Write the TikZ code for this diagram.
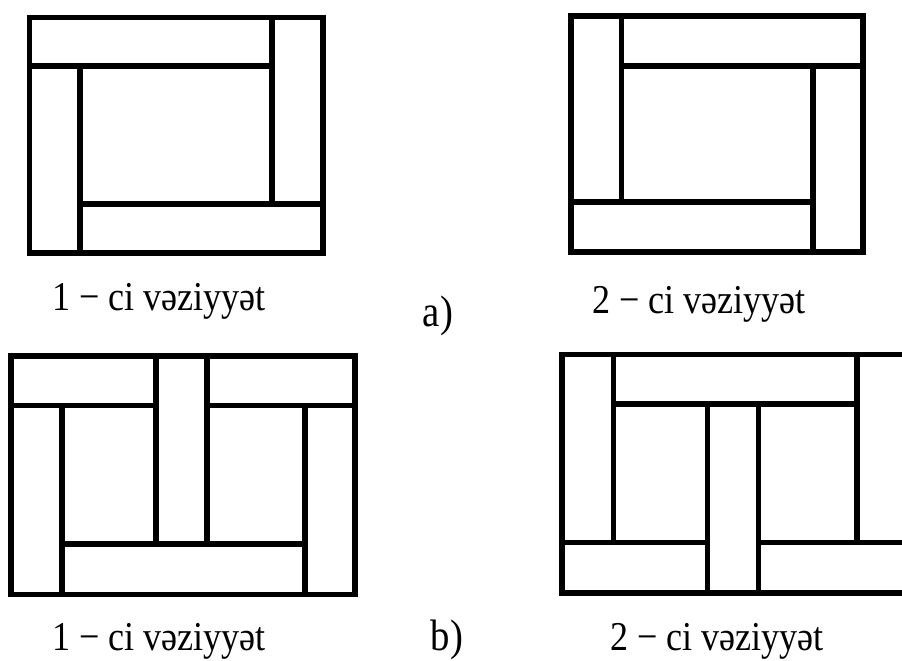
\documentclass[tikz,border=0pt]{standalone}
\usepackage{fontspec}
\setmainfont{Liberation Serif}
\newfontfamily\tallserif[FakeStretch=0.88]{Liberation Serif}
\usepackage{tikz}
\usetikzlibrary{positioning}

\tikzset{
  piece/.style={draw=black, line width=5.6pt},
  caption/.style={anchor=base west, inner sep=0pt, font=\tallserif\fontsize{41}{48}\selectfont},
  tag/.style={anchor=base, inner sep=0pt, font=\tallserif\fontsize{44}{52}\selectfont}
}

\begin{document}
\begin{tikzpicture}[x=1pt,y=-1pt]

  % Frame of the page
  \useasboundingbox (0,0) rectangle (902,661);
  \clip (0,0) rectangle (902,661);

  % a) position 1
  \draw[piece] (29.5,17.5) rectangle (272,66);
  \draw[piece] (272,17.5) rectangle (323,204);
  \draw[piece] (80,204) rectangle (323,253);
  \draw[piece] (29.5,66) rectangle (80,253);
  \node[caption] (a1) at (52,310) {1 − ci vəziyyət};

  % a) position 2
  \draw[piece] (571,16) rectangle (621.5,202);
  \draw[piece] (621.5,16) rectangle (863,66);
  \draw[piece] (813,66) rectangle (863,252);
  \draw[piece] (571,202) rectangle (813,252);
  \node[caption] (a2) at (592,313) {2 − ci vəziyyət};

  \node[tag] (a) at (438,326) {a)};

  % b) position 1
  \draw[piece] (11,356) rectangle (156,405.5);
  \draw[piece] (156,356) rectangle (207,544);
  \draw[piece] (207,356) rectangle (355,405.5);
  \draw[piece] (11,405.5) rectangle (61.7,594.5);
  \draw[piece] (305,405.5) rectangle (355,594.5);
  \draw[piece] (61.7,544) rectangle (305,594.5);
  \node[caption] (b1) at (52,650) {1 − ci vəziyyət};

  % b) position 2 (runs past the right edge)
  \draw[piece] (562,354.5) rectangle (613.5,542.5);
  \draw[piece] (613.5,354.5) rectangle (857,404);
  \draw[piece] (707.5,404) rectangle (758.5,593);
  \draw[piece] (562,542.5) rectangle (707.5,593);
  \draw[piece] (758.5,542.5) rectangle (910,593);
  \draw[piece] (857,354.5) rectangle (910,542.5);
  \node[caption] (b2) at (610,650) {2 − ci vəziyyət};

  \node[tag] (b) at (447,650) {b)};

\end{tikzpicture}
\end{document}
